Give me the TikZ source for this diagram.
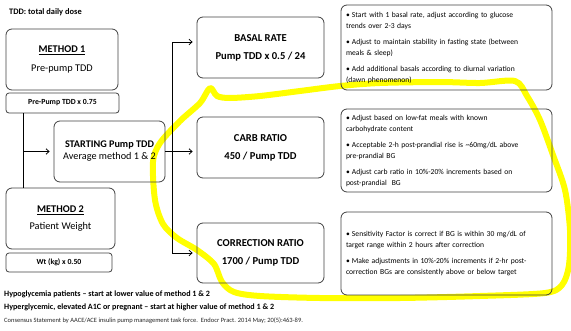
\documentclass[tikz,border=0pt]{standalone}
\usepackage{fontspec}
\setmainfont{Carlito}
\usetikzlibrary{arrows.meta}
\definecolor{bord}{HTML}{404040}
\definecolor{hiyel}{HTML}{FFFF00}
\newcommand{\bulit}[1]{\hangindent=6pt\hangafter=1\noindent\makebox[6pt][l]{\textbullet}#1\par}
\newcommand{\bsetup}{\setlength{\parskip}{5pt}\setlength{\parindent}{0pt}}
\tikzset{
  rbox/.style={draw=bord, line width=0.8pt, rounded corners=6pt, align=center, inner sep=0pt},
  sbox/.style={draw=bord, line width=0.8pt, rounded corners=3pt, align=center, inner sep=0pt, font=\fontsize{7.8}{9}\selectfont\bfseries},
  bbox/.style={draw=bord, line width=0.8pt, rounded corners=6pt, inner xsep=5pt, inner ysep=0pt, text width=201pt,
     align=left, font=\fontsize{7.6}{11}\selectfont, minimum height=83pt},
  mainbox/.style={rbox, minimum width=127pt, minimum height=61pt, font=\fontsize{10.6}{12}\selectfont\bfseries},
  arr/.style={-{Straight Barb[length=3pt,width=5.5pt]}, line width=0.8pt, shorten >=4pt},
  conn/.style={line width=0.8pt},
  hl/.style={draw=hiyel, line width=6pt, line cap=round, line join=round}
}
\begin{document}
\begin{tikzpicture}[x=1pt,y=-1pt]
\useasboundingbox (0,0) rectangle (571,330);
% yellow highlight loop
\draw[hl] plot[smooth cycle, tension=0.5] coordinates {
(210,88) (217,96) (230,98) (260,96) (300,91) (340,86) (380,83) (440,82) (480,83) (515,81)
(527,96) (540,120) (553,155) (565,190) (570,230) (569,265) (562,285) (545,293) (480,296)
(400,298) (320,298) (260,296) (234,292) (222,282) (214,264) (197,250) (177,238) (163,224)
(155,200) (153,162) (160,143) (180,121) (200,103)};

\node[anchor=west, inner sep=0pt, font=\fontsize{8.4}{9}\selectfont\bfseries] (tdd) at (9,12) {TDD: total daily dose};

\node[rbox, minimum width=112pt, minimum height=61pt] (m1) at (62,59.5)
  {\fontsize{10.3}{12}\selectfont\bfseries\underline{METHOD 1}\\[7pt]\fontsize{10.3}{12}\selectfont Pre-pump TDD};
\node[sbox, minimum width=113pt, minimum height=20pt] (pp) at (62.5,103) {Pre-Pump TDD x 0.75};

\node[rbox, minimum width=111pt, minimum height=61pt] (start) at (109.5,151.5)
  {\fontsize{10.2}{12}\selectfont\bfseries STARTING Pump TDD\\[0pt]\fontsize{10.2}{12}\selectfont Average method 1 \& 2};

\node[rbox, minimum width=109pt, minimum height=61pt] (m2) at (60.5,218.5)
  {\fontsize{10.3}{12}\selectfont\bfseries\underline{METHOD 2}\\[5pt]\fontsize{10.3}{12}\selectfont Patient Weight};
\node[sbox, minimum width=106pt, minimum height=19pt] (wt) at (59,262.5) {Wt (kg) x 0.50};

\node[mainbox] (basal) at (260.5,47.5) {BASAL RATE\\[6pt]Pump TDD x 0.5 / 24};
\node[mainbox] (carb) at (260.5,147.5) {CARB RATIO\\[6pt]450 / Pump TDD};
\node[mainbox, minimum height=60pt] (corr) at (260.5,253) {CORRECTION RATIO\\[6pt]1700 / Pump TDD};

\node[bbox, minimum height=85pt] (b1) at (446.5,47.5) {\bsetup
\bulit{Start with 1 basal rate, adjust according to glucose\\trends over 2-3 days}
\bulit{Adjust to maintain stability in fasting state (between\\meals \& sleep)}
\bulit{Add additional basals according to diurnal variation\\(dawn phenomenon)}};
\node[bbox] (b2) at (446.5,150.5) {\bsetup
\bulit{Adjust based on low-fat meals with known\\carbohydrate content}
\bulit{Acceptable 2-h post-prandial rise is \textasciitilde60mg/dL above\\pre-prandial BG}
\bulit{Adjust carb ratio in 10\%-20\% increments based on\\post-prandial\ \ BG}};
\node[bbox] (b3) at (446.5,253.5) {\bsetup
\bulit{Sensitivity Factor is correct if BG is within 30 mg/dL of\\target range within 2 hours after correction}
\bulit{Make adjustments in 10\%-20\% increments if 2-hr post-\\correction BGs are consistently above or below target}};

% left connectors
\coordinate (j1) at (23,151.5);
\draw[conn] (pp.south -| j1) -- (m2.north -| j1);
\draw[arr] (j1) -- (start.west);

% right connectors
\coordinate (t1) at (172,42);
\coordinate (t2) at (172,253);
\draw[conn] (t1) -- (t2);
\draw[arr] (t1) -- (t1 -| basal.west);
\draw[arr] (start.east) -- (start.east -| carb.west);
\draw[arr] (t2) -- (t2 -| corr.west);

% footnotes
\node[anchor=west, inner sep=0pt, font=\fontsize{8.1}{9}\selectfont\bfseries] (n1) at (4,294) {Hypoglycemia patients -- start at lower value of method 1 \& 2};
\node[anchor=west, inner sep=0pt, font=\fontsize{8.1}{9}\selectfont\bfseries] (n2) at (4,307) {Hyperglycemic, elevated A1C or pregnant -- start at higher value of method 1 \& 2};
\node[anchor=west, inner sep=0pt, font=\fontsize{6.5}{7}\selectfont, text=black!85] (n3) at (4,321) {Consensus Statement by AACE/ACE insulin pump management task force.\ \ Endocr Pract. 2014 May; 20(5):463-89.};
\end{tikzpicture}
\end{document}
